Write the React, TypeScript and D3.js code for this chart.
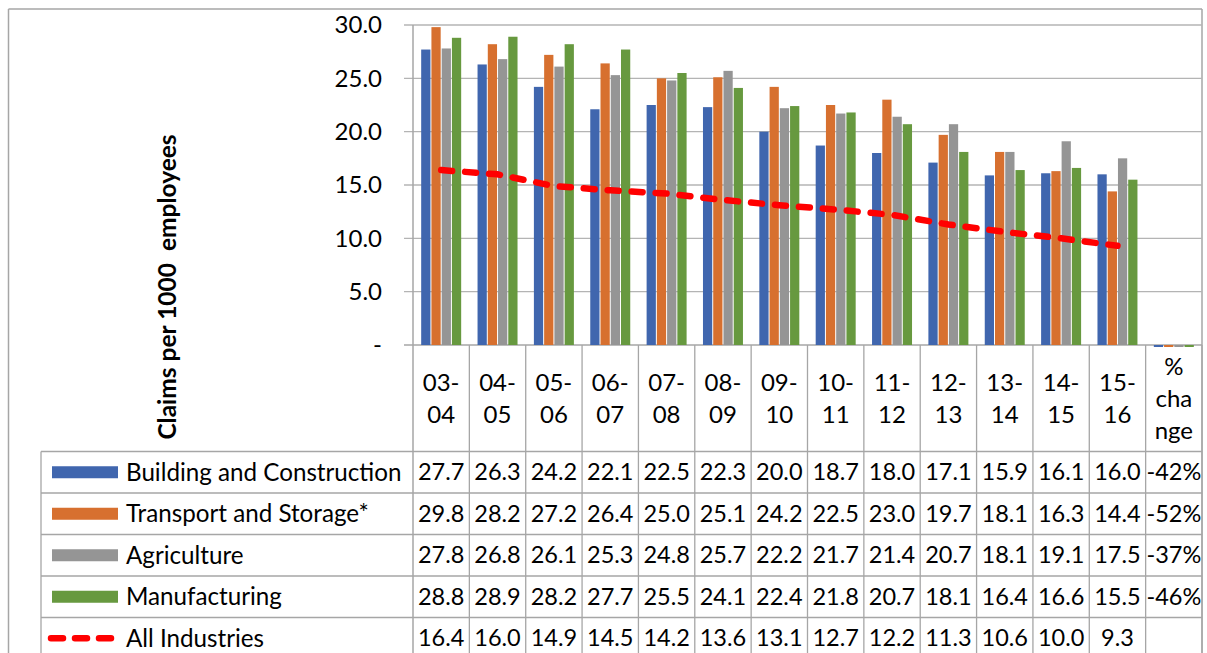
import React from 'react';
import * as d3 from 'd3';

const categories = ['03-04', '04-05', '05-06', '06-07', '07-08', '08-09', '09-10', '10-11', '11-12', '12-13', '13-14', '14-15', '15-16', '% change'];
const categoryLines = [['03-', '04'], ['04-', '05'], ['05-', '06'], ['06-', '07'], ['07-', '08'], ['08-', '09'], ['09-', '10'], ['10-', '11'], ['11-', '12'], ['12-', '13'], ['13-', '14'], ['14-', '15'], ['15-', '16'], ['%', 'cha', 'nge']];
const building = [27.7, 26.3, 24.2, 22.1, 22.5, 22.3, 20.0, 18.7, 18.0, 17.1, 15.9, 16.1, 16.0, -0.42];
const transport = [29.8, 28.2, 27.2, 26.4, 25.0, 25.1, 24.2, 22.5, 23.0, 19.7, 18.1, 16.3, 14.4, -0.52];
const agriculture = [27.8, 26.8, 26.1, 25.3, 24.8, 25.7, 22.2, 21.7, 21.4, 20.7, 18.1, 19.1, 17.5, -0.37];
const manufacturing = [28.8, 28.9, 28.2, 27.7, 25.5, 24.1, 22.4, 21.8, 20.7, 18.1, 16.4, 16.6, 15.5, -0.46];
const allIndustries = [16.4, 16.0, 14.9, 14.5, 14.2, 13.6, 13.1, 12.7, 12.2, 11.3, 10.6, 10.0, 9.3];
const seriesNames = ['Building and Construction', 'Transport and Storage*', 'Agriculture', 'Manufacturing'];
const lineName = 'All Industries';
const yTicks = [0, 5, 10, 15, 20, 25, 30];
const yTitle = 'Claims per 1000  employees';

const barSeries = [building, transport, agriculture, manufacturing];
const colors = ['#4066ae', '#d7702f', '#959595', '#67993f'];
const lineColor = '#ff0000';
const borderColor = '#a6a6a6';
const font = 'Lato, Calibri, "Open Sans", sans-serif';

const locale = d3.formatLocale({ decimal: '.', thousands: ',', grouping: [3], currency: ['$', ''], minus: '-' });
const fmt1 = locale.format('.1f');
const fmtPct = locale.format('.0%');

export default function App() {
  const W = 1207, H = 653;
  const plotLeft = 413, plotRight = 1202, plotTop = 25, plotBottom = 345;
  const tableLeft = 41;
  const catRowBottom = 451.5;
  const rowH = 41.5;
  const fs = 23.5;

  const x = d3.scaleBand<string>().domain(categories).range([plotLeft, plotRight]).paddingInner(0).paddingOuter(0);
  const y = d3.scaleLinear().domain([0, 30]).range([plotBottom, plotTop]);
  const bw = x.bandwidth();
  const step = bw / (4 + 1.5);
  const groupOffset = (bw - step * 4) / 2;

  const line = d3.line<number>()
    .x((_, i) => (x(categories[i]) as number) + bw / 2)
    .y((d) => y(d));

  const rows = [...seriesNames, lineName];
  const rowValues = [...barSeries, allIndustries];

  return (
    <svg width={W} height={H} style={{ position: 'absolute', left: 0, top: 0, background: '#fff' }} fontFamily={font}>
      <defs>
        <clipPath id="plotclip">
          <rect x={plotLeft} y={0} width={plotRight - plotLeft} height={plotBottom + 2} />
        </clipPath>
      </defs>
      {/* outer border */}
      <line x1={8.5} x2={1202} y1={9} y2={9} stroke={borderColor} strokeWidth={1.5} />
      <line x1={8.5} x2={8.5} y1={9} y2={H} stroke={borderColor} strokeWidth={1.5} />
      <line x1={1202} x2={1202} y1={9} y2={H} stroke={borderColor} strokeWidth={1.5} />

      {/* gridlines */}
      {yTicks.map((t) => (
        <line key={t} x1={plotLeft - 9} x2={plotRight} y1={y(t)} y2={y(t)} stroke={t === 0 ? borderColor : '#b4b4b4'} strokeWidth={1.3} />
      ))}
      {yTicks.map((t) => (
        <text key={'l' + t} x={382} y={y(t)} dy="0.35em" textAnchor="end" fontSize={24} fill="#000">
          {t === 0 ? '-' : fmt1(t)}
        </text>
      ))}
      <text transform={`translate(176,287) rotate(-90)`} textAnchor="middle" fontSize={24.5} fontWeight="bold" fill="#000" style={{ whiteSpace: 'pre' }}>
        {yTitle}
      </text>

      {/* bars */}
      <g clipPath="url(#plotclip)">
        {barSeries.map((s, si) =>
          s.map((v, i) => {
            const x0 = (x(categories[i]) as number) + groupOffset + si * step;
            const y0 = Math.min(y(v), y(0));
            const h = Math.abs(y(v) - y(0));
            return <rect key={si + '-' + i} x={x0 + 0.5} y={y0} width={step - 1} height={h} fill={colors[si]} />;
          })
        )}
      </g>

      {/* axis line */}
      <line x1={plotLeft} x2={plotLeft} y1={plotTop} y2={H} stroke={borderColor} strokeWidth={1.5} />

      {/* all industries line */}
      <path d={line(allIndustries) || ''} fill="none" stroke={lineColor} strokeWidth={6.5} strokeDasharray="11 13" strokeLinecap="round" />

      {/* table: category header */}
      {categories.map((c, i) => {
        const cx = (x(c) as number) + bw / 2;
        const lines = categoryLines[i];
        const mid = (plotBottom + catRowBottom) / 2;
        const lh = 32;
        return (
          <g key={'c' + c}>
            {lines.map((ln, li) => (
              <text key={li} x={cx} y={mid + (li - (lines.length - 1) / 2) * lh} dy="0.35em" textAnchor="middle" fontSize={24} fill="#000">
                {ln}
              </text>
            ))}
          </g>
        );
      })}
      {categories.map((c) => (
        <line key={'v' + c} x1={(x(c) as number) + bw} x2={(x(c) as number) + bw} y1={plotBottom} y2={H} stroke={borderColor} strokeWidth={1.3} />
      ))}

      {/* table rows */}
      {rows.map((r, ri) => {
        const top = catRowBottom + ri * rowH;
        const cy = top + rowH / 2;
        const vals = rowValues[ri];
        return (
          <g key={'r' + r}>
            <line x1={tableLeft} x2={plotRight} y1={top} y2={top} stroke={borderColor} strokeWidth={1.3} />
            {ri < 4 ? (
              <rect x={52} y={cy - 6} width={66} height={12} fill={colors[ri]} />
            ) : (
              <line x1={51} x2={115} y1={cy} y2={cy} stroke={lineColor} strokeWidth={6.5} strokeDasharray="12 12" strokeLinecap="round" />
            )}
            <text x={126} y={cy} dy="0.35em" fontSize={24.2} fill="#000">{r}</text>
            {vals.map((v, i) => (
              <text key={i} x={(x(categories[i]) as number) + bw / 2} y={cy} dy="0.35em" textAnchor="middle" fontSize={fs} fill="#000">
                {i === 13 ? fmtPct(v) : fmt1(v)}
              </text>
            ))}
          </g>
        );
      })}
      <line x1={tableLeft} x2={tableLeft} y1={catRowBottom} y2={H} stroke={borderColor} strokeWidth={1.3} />
    </svg>
  );
}
